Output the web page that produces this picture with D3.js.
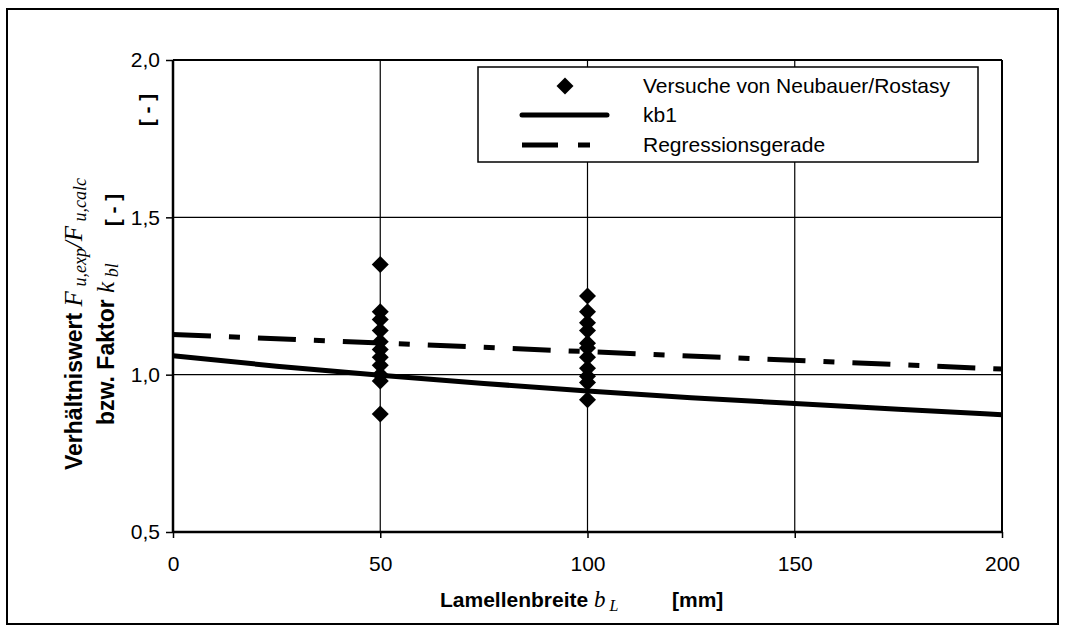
<!DOCTYPE html>
<html><head><meta charset="utf-8">
<script src="https://cdn.jsdelivr.net/npm/d3@7/dist/d3.min.js"></script>
<style>
html,body{margin:0;padding:0;background:#fff;}
svg{display:block;font-family:"Liberation Sans",Arial,sans-serif;}
</style></head>
<body><svg id="c" width="1068" height="626"></svg>
<script>
// ---- data ----
const xTicks = [0, 50, 100, 150, 200];
const yTicks = [0.5, 1.0, 1.5, 2.0];
const testX50 = [50,50,50,50,50,50,50,50,50,50,50];
const testY50 = [1.35, 1.20, 1.175, 1.14, 1.105, 1.08, 1.055, 1.03, 1.00, 0.98, 0.875];
const testX100 = [100,100,100,100,100,100,100,100,100,100,100];
const testY100 = [1.25, 1.20, 1.165, 1.14, 1.10, 1.085, 1.055, 1.02, 0.995, 0.975, 0.92];
const kb1X = [0, 25, 50, 75, 100, 125, 150, 175, 200];
const kb1Y = [1.06, 1.027, 0.998, 0.972, 0.948, 0.927, 0.908, 0.890, 0.873];
const regX = [0, 200];
const regY = [1.128, 1.018];
const legendLabels = ["Versuche von Neubauer/Rostasy", "kb1", "Regressionsgerade"];

const svg = d3.select("#c");
const x = d3.scaleLinear().domain([0, 200]).range([173, 1002]);
const y = d3.scaleLinear().domain([0.5, 2.0]).range([532, 60]);
const fmt = v => d3.format(".1f")(v).replace(".", ",");
const serif = "'Liberation Serif',serif";

// outer frame
svg.append("rect").attr("x", 7).attr("y", 9).attr("width", 1051).attr("height", 615)
  .attr("fill", "none").attr("stroke", "#000").attr("stroke-width", 2);

// gridlines
const g = svg.append("g");
g.selectAll(".vg").data(xTicks.filter(d => d > 0)).enter().append("line")
  .attr("x1", d => x(d)).attr("x2", d => x(d)).attr("y1", y(0.5)).attr("y2", y(2.0))
  .attr("stroke", "#000").attr("stroke-width", d => d === 200 ? 2 : 1.2);
g.selectAll(".hg").data(yTicks.filter(d => d > 0.5)).enter().append("line")
  .attr("x1", x(0)).attr("x2", x(200)).attr("y1", d => y(d)).attr("y2", d => y(d))
  .attr("stroke", "#000").attr("stroke-width", d => d === 2.0 ? 2 : 1.2);

// axes
const xAxis = d3.axisBottom(x).tickValues(xTicks).tickSize(6).tickPadding(18).tickFormat(d3.format("d"));
const yAxis = d3.axisLeft(y).tickValues(yTicks).tickSize(7).tickPadding(6).tickFormat(fmt);
const gx = svg.append("g").attr("transform", `translate(0,${y(0.5)})`).call(xAxis);
const gy = svg.append("g").attr("transform", `translate(${x(0)},0)`).call(yAxis);
[gx, gy].forEach(a => {
  a.select(".domain").attr("stroke", "#000").attr("stroke-width", 2.5);
  a.selectAll(".tick line").attr("stroke", "#000").attr("stroke-width", 1.5);
  a.selectAll(".tick text").attr("fill", "#000").style("font-size", "21px")
    .style("font-family", "'Liberation Sans',Arial,sans-serif");
});
gx.select(".domain").attr("d", `M${x(0)},0H${x(200)}`);
gy.select(".domain").attr("d", `M0,${y(0.5)}V${y(2.0)}`);

// lines
const line = d3.line().x(d => x(d[0])).y(d => y(d[1])).curve(d3.curveMonotoneX);
svg.append("path").datum(kb1X.map((v, i) => [v, kb1Y[i]])).attr("d", line)
  .attr("fill", "none").attr("stroke", "#000").attr("stroke-width", 5);
svg.append("path").datum(regX.map((v, i) => [v, regY[i]])).attr("d", line)
  .attr("fill", "none").attr("stroke", "#000").attr("stroke-width", 5)
  .attr("stroke-dasharray", "38,18,11,18");

// diamonds
const diamond = d3.symbol().type(d3.symbolSquare).size(144);
const pts = testX50.map((v, i) => [v, testY50[i]]).concat(testX100.map((v, i) => [v, testY100[i]]));
svg.append("g").selectAll("path").data(pts).enter().append("path")
  .attr("d", diamond)
  .attr("transform", d => `translate(${x(d[0])},${y(d[1])}) rotate(45)`)
  .attr("fill", "#000");

// legend
const lg = svg.append("g");
lg.append("rect").attr("x", 478).attr("y", 67).attr("width", 500).attr("height", 95)
  .attr("fill", "#fff").attr("stroke", "#000").attr("stroke-width", 1.5);
const rows = [86, 115, 145];
lg.append("path").attr("d", diamond).attr("transform", `translate(565,${rows[0]}) rotate(45)`).attr("fill", "#000");
lg.append("line").attr("x1", 522).attr("x2", 607).attr("y1", rows[1]).attr("y2", rows[1])
  .attr("stroke", "#000").attr("stroke-width", 5).attr("stroke-linecap", "round");
lg.append("line").attr("x1", 522).attr("x2", 590).attr("y1", rows[2]).attr("y2", rows[2])
  .attr("stroke", "#000").attr("stroke-width", 5).attr("stroke-dasharray", "36,20,12,40");
lg.selectAll("text").data(legendLabels).enter().append("text")
  .attr("x", 643).attr("y", (d, i) => rows[i] + 7).text(d => d)
  .style("font-size", "21px").attr("fill", "#000");

// x axis title
const xt = svg.append("text").attr("x", 440).attr("y", 607).style("font-size", "21px").attr("fill", "#000");
xt.append("tspan").style("font-weight", "bold").text("Lamellenbreite ");
xt.append("tspan").style("font-family", serif).style("font-style", "italic").style("font-size", "23px").text("b");
xt.append("tspan").attr("dy", 4).style("font-family", serif).style("font-style", "italic").style("font-size", "16px").text(" L");
svg.append("text").attr("x", 672).attr("y", 607).style("font-size", "21px").style("font-weight", "bold").text("[mm]");

// y axis title
const yt1 = svg.append("text").attr("transform", "translate(82,470) rotate(-90)").style("font-size", "23px");
yt1.append("tspan").style("font-weight", "bold").text("Verhältniswert ");
yt1.append("tspan").style("font-family", serif).style("font-style", "italic").style("font-size", "25px").text("F");
yt1.append("tspan").attr("dy", 4).style("font-family", serif).style("font-style", "italic").style("font-size", "18px").text(" u,exp");
yt1.append("tspan").attr("dy", -4).style("font-family", serif).style("font-style", "italic").style("font-size", "25px").text("/F");
yt1.append("tspan").attr("dy", 4).style("font-family", serif).style("font-style", "italic").style("font-size", "18px").text(" u,calc");
const yt2 = svg.append("text").attr("transform", "translate(114,425) rotate(-90)").style("font-size", "23px");
yt2.append("tspan").style("font-weight", "bold").text("bzw. Faktor ");
yt2.append("tspan").style("font-family", serif).style("font-style", "italic").style("font-size", "25px").text("k");
yt2.append("tspan").attr("dy", 4).style("font-family", serif).style("font-style", "italic").style("font-size", "18px").text(" bl");
svg.append("text").attr("transform", "translate(120,210) rotate(-90)").attr("text-anchor", "middle")
  .style("font-size", "21px").style("font-weight", "bold").text("[ - ]");
svg.append("text").attr("transform", "translate(154,110) rotate(-90)").attr("text-anchor", "middle")
  .style("font-size", "21px").style("font-weight", "bold").text("[ - ]");
</script></body></html>
